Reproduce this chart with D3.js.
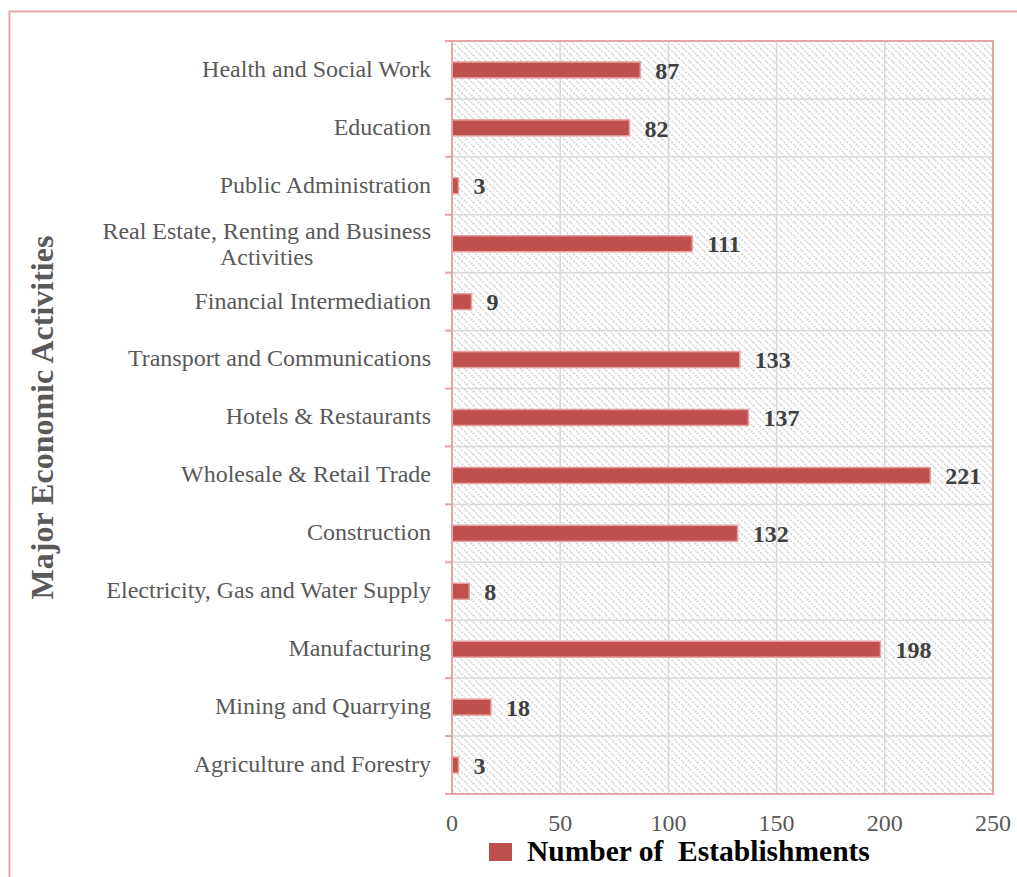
<!DOCTYPE html>
<html>
<head>
<meta charset="utf-8">
<script src="https://cdn.jsdelivr.net/npm/d3@7"></script>
<style>
  body { margin: 0; background: #fff; }
  text { font-family: "Liberation Serif", "Times New Roman", serif; }
</style>
</head>
<body>
<div id="chart"></div>
<script>
// categories listed top to bottom
var activities = ["Health and Social Work", "Education", "Public Administration",
  "Real Estate, Renting and Business|Activities", "Financial Intermediation",
  "Transport and Communications", "Hotels & Restaurants", "Wholesale & Retail Trade",
  "Construction", "Electricity, Gas and Water Supply", "Manufacturing",
  "Mining and Quarrying", "Agriculture and Forestry"];
var establishments = [87, 82, 3, 111, 9, 133, 137, 221, 132, 8, 198, 18, 3];
var xTicks = [0, 50, 100, 150, 200, 250];

var W = 1017, H = 877;
var margin = {top: 41, right: 24, bottom: 83, left: 452};
var width = W - margin.left - margin.right;
var height = H - margin.top - margin.bottom;

var svg = d3.select("#chart").append("svg")
    .attr("width", W)
    .attr("height", H);

var defs = svg.append("defs");
var pat = defs.append("pattern")
    .attr("id", "hatch")
    .attr("patternUnits", "userSpaceOnUse")
    .attr("width", 7)
    .attr("height", 7);
pat.append("rect").attr("width", 7).attr("height", 7).attr("fill", "#fff");
pat.append("path")
    .attr("d", "M0,0L7,7M-1,6L1,8M6,-1L8,1")
    .attr("stroke", "#d0d0d0")
    .attr("stroke-width", 1.4)
    .attr("stroke-dasharray", "2,1.5");

// outer frame (top and left edges)
svg.append("path")
    .attr("d", "M9.5," + H + "V11.5H" + W)
    .attr("fill", "none")
    .attr("stroke", "#e3a5a5")
    .attr("stroke-width", 2);

var g = svg.append("g").attr("transform", "translate(" + margin.left + "," + margin.top + ")");

var x = d3.scaleLinear().domain([0, 250]).range([0, width]);
var y = d3.scaleBand().domain(activities).range([0, height]);

g.append("rect")
    .attr("width", width)
    .attr("height", height)
    .attr("fill", "url(#hatch)");

// vertical gridlines
g.selectAll(".vgrid")
  .data(xTicks.slice(1, -1))
  .enter()
  .append("line")
    .attr("x1", d => x(d)).attr("x2", d => x(d))
    .attr("y1", 0).attr("y2", height)
    .attr("stroke", "#d9d9d9")
    .attr("stroke-width", 1.5);

// horizontal gridlines at category boundaries
var bounds = activities.slice(1).map(d => y(d));
g.selectAll(".hgrid")
  .data(bounds)
  .enter()
  .append("line")
    .attr("x1", 0).attr("x2", width)
    .attr("y1", d => d).attr("y2", d => d)
    .attr("stroke", "#d9d9d9")
    .attr("stroke-width", 1.5);

// ticks on the category axis
g.selectAll(".ytick")
  .data([0].concat(bounds).concat([height]))
  .enter()
  .append("line")
    .attr("x1", -7).attr("x2", 0)
    .attr("y1", d => d).attr("y2", d => d)
    .attr("stroke", "#e3a5a5")
    .attr("stroke-width", 2);

var barH = 16;
g.selectAll(".bar")
  .data(activities)
  .enter()
  .append("rect")
    .attr("x", 0)
    .attr("y", d => y(d) + y.bandwidth() / 2 - barH / 2)
    .attr("width", (d, i) => x(establishments[i]))
    .attr("height", barH)
    .attr("fill", "#c0504d")
    .attr("stroke", "#e6a3a1")
    .attr("stroke-width", 1.5);

g.selectAll(".val")
  .data(activities)
  .enter()
  .append("text")
    .attr("x", (d, i) => x(establishments[i]) + 15)
    .attr("y", d => y(d) + y.bandwidth() / 2)
    .attr("dy", "0.36em")
    .attr("font-size", 24)
    .attr("font-weight", "bold")
    .attr("fill", "#404040")
    .text((d, i) => establishments[i]);

// category labels
var labels = g.selectAll(".cat")
  .data(activities)
  .enter()
  .append("text")
    .attr("font-size", 24)
    .attr("fill", "#595959")
    .attr("text-anchor", "end");

labels.each(function(d) {
  var lines = d.split("|");
  var t = d3.select(this);
  var cy = y(d) + y.bandwidth() / 2;
  if (lines.length === 1) {
    t.append("tspan").attr("x", -21).attr("y", cy - 1).attr("dy", "0.33em").text(d);
  } else {
    var first = t.append("tspan").attr("x", -21).attr("y", cy - 13).attr("dy", "0.33em").text(lines[0]);
    var w = first.node().getComputedTextLength();
    t.append("tspan")
      .attr("x", -21 - w / 2)
      .attr("y", cy + 13)
      .attr("dy", "0.33em")
      .attr("text-anchor", "middle")
      .text(lines[1]);
  }
});

// plot border
g.append("rect")
    .attr("width", width)
    .attr("height", height)
    .attr("fill", "none")
    .attr("stroke", "#e3a5a5")
    .attr("stroke-width", 2);

// x tick labels
g.selectAll(".xlab")
  .data(xTicks)
  .enter()
  .append("text")
    .attr("x", d => x(d))
    .attr("y", height + 37)
    .attr("text-anchor", "middle")
    .attr("font-size", 24)
    .attr("fill", "#595959")
    .text(d => d);

// axis title
svg.append("text")
    .attr("transform", "translate(53," + (margin.top + height / 2) + ")rotate(-90)")
    .attr("text-anchor", "middle")
    .attr("font-size", 32)
    .attr("font-weight", "bold")
    .attr("fill", "#595959")
    .text("Major Economic Activities");

// legend
var leg = svg.append("g").attr("transform", "translate(489,843)");
leg.append("rect")
    .attr("width", 23)
    .attr("height", 18)
    .attr("fill", "#c0504d");
leg.append("text")
    .attr("x", 38)
    .attr("y", 18)
    .attr("font-size", 29.5)
    .attr("font-weight", "bold")
    .attr("fill", "#000")
    .style("white-space", "pre")
    .text("Number of  Establishments");
</script>
</body>
</html>
